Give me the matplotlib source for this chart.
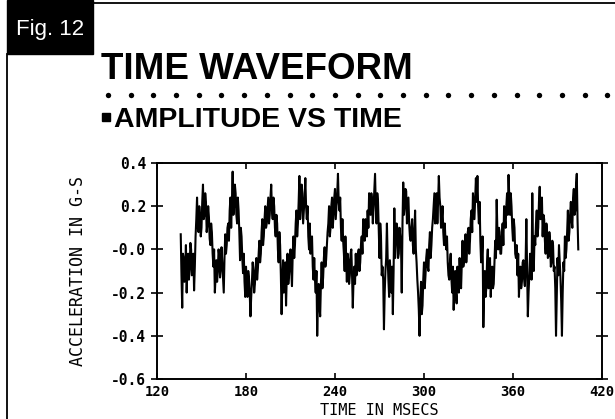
import numpy as np
import matplotlib
matplotlib.use('Agg')
import matplotlib.pyplot as plt
from matplotlib.patches import Rectangle

# waveform: samples on whole ms (136..404) and the
# in-between half-ms samples (136.5..403.5)
sample_start_ms = 136
accel_whole_ms = [
    0.07, -0.27, -0.04, -0.10, -0.20, -0.02, -0.09, 0.00, -0.07, -0.19,
    0.06, 0.24, 0.08, 0.15, 0.10, 0.30, 0.16, 0.22, 0.12, 0.15,
    0.02, 0.08, -0.08, -0.20, -0.05, -0.10, -0.03, -0.09, -0.06, -0.20,
    0.07, 0.02, 0.12, 0.18, 0.10, 0.36, 0.20, 0.26, 0.12, 0.18,
    -0.05, 0.06, -0.11, -0.15, -0.08, -0.22, -0.13, -0.31, -0.15, -0.10,
    -0.16, -0.04, -0.09, 0.04, -0.02, 0.14, 0.06, 0.20, 0.12, 0.24,
    0.16, 0.30, 0.14, 0.20, 0.06, 0.12, -0.06, 0.02, -0.30, -0.05,
    -0.15, -0.26, -0.02, -0.12, 0.00, -0.17, 0.06, 0.02, 0.18, 0.12,
    0.34, 0.20, 0.26, 0.18, 0.33, 0.14, 0.06, 0.12, 0.02, -0.08,
    -0.04, -0.20, -0.40, -0.16, -0.31, -0.06, -0.13, 0.01, -0.05, 0.08,
    0.20, 0.10, 0.24, 0.16, 0.28, 0.20, 0.35, 0.18, 0.10, 0.14,
    -0.02, 0.06, -0.15, -0.05, -0.12, 0.00, -0.27, -0.08, -0.02, -0.10,
    0.00, -0.06, 0.06, 0.14, 0.04, 0.12, 0.18, 0.26, 0.16, 0.22,
    0.20, 0.35, 0.12, 0.22, -0.04, 0.06, -0.08, -0.37, -0.10, 0.12,
    -0.14, -0.05, -0.20, -0.30, 0.19, 0.04, 0.10, -0.02, 0.06, -0.20,
    0.31, 0.20, 0.27, 0.18, 0.12, 0.04, 0.14, -0.02, 0.18, -0.06,
    -0.20, -0.40, -0.15, -0.26, -0.06, -0.12, 0.00, -0.10, 0.08, 0.02,
    0.14, 0.26, 0.18, 0.12, 0.34, 0.20, 0.14, 0.08, 0.12, 0.00,
    -0.06, -0.14, -0.02, -0.20, -0.28, -0.10, -0.25, -0.12, -0.04, -0.18,
    0.04, -0.05, 0.07, 0.00, 0.10, 0.04, 0.18, 0.26, 0.14, 0.33,
    0.34, 0.12, 0.04, -0.04, -0.36, -0.10, -0.18, 0.00, -0.14, -0.22,
    -0.08, -0.16, 0.04, 0.23, 0.00, 0.08, -0.02, 0.12, 0.20, 0.10,
    0.26, 0.345, 0.16, 0.20, 0.04, 0.10, -0.04, -0.12, -0.22, -0.08,
    -0.15, -0.05, -0.17, 0.14, -0.31, -0.12, -0.04, 0.26, -0.10, 0.02,
    0.18, 0.10, 0.29, 0.16, 0.06, 0.14, -0.02, 0.08, -0.03, 0.04,
    -0.06, 0.02, -0.08, -0.40, -0.04, 0.02, -0.13, -0.40, -0.06, 0.06,
    0.00, 0.18, 0.08, 0.22, 0.10, 0.28, 0.18, 0.35, 0.00,
]
accel_half_ms = [
    -0.12, -0.02, -0.15, 0.02, -0.08, -0.14, 0.03, -0.12, -0.02, -0.08,
    0.14, 0.10, 0.20, 0.06, 0.22, 0.14, 0.26, 0.08, 0.20, 0.05,
    0.12, -0.02, 0.00, -0.12, -0.15, 0.00, -0.13, 0.01, -0.14, -0.04,
    -0.02, 0.10, 0.04, 0.24, 0.22, 0.16, 0.30, 0.16, 0.24, 0.08,
    0.10, -0.04, -0.02, -0.22, -0.16, -0.10, -0.20, -0.22, -0.06, -0.20,
    -0.08, -0.14, -0.02, -0.06, 0.08, 0.02, 0.14, 0.10, 0.18, 0.12,
    0.24, 0.18, 0.24, 0.10, 0.16, 0.00, 0.08, -0.12, -0.16, -0.20,
    -0.06, -0.12, -0.16, -0.04, -0.10, -0.02, -0.04, 0.12, 0.06, 0.22,
    0.14, 0.30, 0.12, 0.24, 0.20, 0.20, 0.00, -0.02, 0.06, -0.14,
    -0.14, -0.10, -0.24, -0.26, -0.16, -0.18, -0.04, -0.08, 0.02, 0.12,
    0.06, 0.20, 0.10, 0.24, 0.14, 0.26, 0.22, 0.24, 0.04, 0.04,
    -0.10, -0.04, -0.02, -0.16, -0.02, -0.12, -0.14, -0.16, -0.12, -0.02,
    -0.10, 0.02, -0.02, 0.06, 0.14, 0.06, 0.10, 0.18, 0.26, 0.12,
    0.28, 0.20, 0.26, 0.08, 0.12, -0.12, -0.14, -0.20, -0.04, -0.04,
    -0.22, -0.12, -0.08, -0.10, -0.04, 0.12, -0.04, 0.10, 0.02, 0.12,
    0.16, 0.28, 0.12, 0.24, 0.06, 0.10, 0.02, 0.08, 0.00, -0.14,
    -0.28, -0.24, -0.30, -0.14, -0.18, -0.04, -0.08, 0.02, -0.04, 0.10,
    0.20, 0.12, 0.26, 0.22, 0.24, 0.10, 0.20, 0.02, 0.04, 0.06,
    -0.12, -0.06, -0.14, -0.08, -0.18, -0.20, -0.08, -0.20, -0.14, -0.06,
    -0.08, 0.02, -0.06, 0.08, -0.02, 0.14, 0.08, 0.20, 0.24, 0.22,
    0.20, 0.22, -0.06, 0.06, -0.20, -0.22, -0.06, -0.18, -0.04, -0.12,
    -0.18, -0.06, -0.04, 0.08, 0.10, -0.02, 0.06, 0.02, 0.14, 0.20,
    0.16, 0.24, 0.26, 0.10, 0.14, -0.02, 0.02, -0.02, -0.12, -0.18,
    -0.06, -0.14, -0.06, -0.10, -0.20, -0.02, -0.14, 0.00, 0.06, 0.12,
    0.06, 0.22, 0.14, 0.24, 0.16, 0.04, 0.12, -0.04, 0.08, -0.08,
    0.04, -0.10, -0.18, -0.22, -0.12, -0.06, -0.24, -0.20, -0.10, -0.04,
    0.08, 0.04, 0.16, 0.14, 0.24, 0.16, 0.30, 0.14,
]
accel_g = np.empty(len(accel_whole_ms) + len(accel_half_ms))
accel_g[0::2] = accel_whole_ms
accel_g[1::2] = accel_half_ms
time_ms = sample_start_ms + 0.5 * np.arange(len(accel_g))

x_ticks = [120, 180, 240, 300, 360, 420]
y_ticks = [0.4, 0.2, 0.0, -0.2, -0.4, -0.6]
y_tick_labels = ['0.4', '0.2', '-0.0', '-0.2', '-0.4', '-0.6']

W, H = 615, 419
fig = plt.figure(figsize=(W / 100, H / 100), dpi=100)

# page decoration, in pixel coords
deco = fig.add_axes([0, 0, 1, 1])
deco.set_xlim(0, W)
deco.set_ylim(H, 0)
deco.axis('off')
deco.add_patch(Rectangle((7, 0), 86, 54, color='black'))
deco.text(16, 35, 'Fig. 12', color='white', fontsize=16, family='Liberation Sans', va='baseline')
deco.plot([93, W], [3, 3], color='black', lw=1.3)
deco.plot([7, 7], [54, H], color='black', lw=1.3)
deco.text(101, 79, 'TIME WAVEFORM', fontsize=26.5, weight='bold',
          family='Liberation Sans', va='baseline')
dot_x = np.arange(108, W + 5, 22.7)
deco.scatter(dot_x, np.full(len(dot_x), 95), s=15, color='black', lw=0)
deco.add_patch(Rectangle((102, 113), 8, 8, color='black'))
deco.text(114, 127, 'AMPLITUDE VS TIME', fontsize=20.5, weight='bold',
          family='Liberation Sans', va='baseline')

ax = fig.add_axes([157 / W, 40 / H, 445 / W, 216 / H])
ax.plot(time_ms, accel_g, color='black', lw=1.5)
ax.set_xlim(120, 420)
ax.set_ylim(-0.6, 0.4)
ax.set_xticks(x_ticks)
ax.set_xticklabels([str(v) for v in x_ticks],
                   fontdict={'family': 'DejaVu Sans Mono', 'weight': 'bold', 'size': 10})
ax.set_yticks(y_ticks)
ax.set_yticklabels(y_tick_labels,
                   fontdict={'family': 'DejaVu Sans Mono', 'weight': 'bold', 'size': 10.5})
ax.tick_params(axis='y', direction='inout', length=8, width=1.2, right=True, pad=4)
ax.tick_params(axis='x', direction='in', length=4, width=1.2, top=True, pad=4)
for s in ax.spines.values():
    s.set_linewidth(1.4)
ax.set_xlabel('TIME IN MSECS', family='DejaVu Sans Mono', fontsize=11, va='center')
ax.xaxis.set_label_coords(0.5, -0.148)
ax.set_ylabel('ACCELERATION IN G-S', family='DejaVu Sans Mono', fontsize=12, va='center')
ax.yaxis.set_label_coords(-0.178, 0.5)

fig.savefig('out.png', dpi=100)
